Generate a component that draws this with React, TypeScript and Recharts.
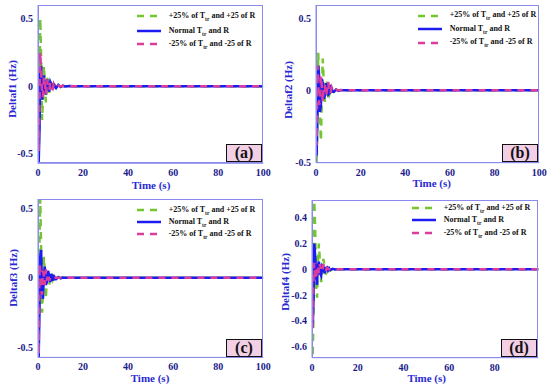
import React from "react";
import { LineChart, Line, XAxis, YAxis } from "recharts";

const T = [0, 0.3, 0.7, 1.0, 1.4, 1.8, 2.2, 2.6, 3.0, 3.5, 4.0, 4.5, 5.0, 5.5, 6, 6.5, 7, 7.5, 8, 9, 10, 11, 12, 14, 16, 20, 100];

const A_PLUS = [0, -0.55, 0.1, 0.5, 0.2, -0.25, -0.1, 0.15, 0.05, -0.12, 0.06, 0.04, -0.05, 0.03, 0.02, -0.02, 0.015, 0.005, -0.01, 0.005, -0.003, 0.002, 0, 0, 0, 0, 0];
const A_NORM = [0, -0.57, -0.3, 0.1, 0.15, -0.1, -0.05, 0.08, -0.04, -0.06, 0.05, 0.02, -0.04, 0.03, 0.01, -0.025, 0.02, -0.005, -0.015, 0.01, -0.006, 0.004, -0.002, 0.001, 0, 0, 0];
const A_MINUS = [0, -0.48, -0.1, 0.25, 0.1, -0.05, -0.08, 0.07, 0.03, -0.06, 0.05, -0.01, -0.03, 0.03, -0.01, -0.02, 0.015, -0.005, -0.008, 0.005, -0.002, 0.001, 0, 0, 0, 0, 0];

const B_PLUS = [0, -0.5, -0.1, 0.26, 0.1, -0.2, -0.35, -0.05, 0.22, 0.05, -0.08, -0.02, 0.06, 0.02, -0.03, -0.01, 0.02, 0, -0.01, 0.005, 0, 0, 0, 0, 0, 0, 0];
const B_NORM = [0, -0.45, -0.1, 0.17, 0.1, -0.15, -0.1, 0.08, 0.05, -0.06, -0.03, 0.05, 0.02, -0.03, -0.02, 0.025, 0.015, -0.01, -0.01, 0.006, -0.003, 0.002, 0, 0, 0, 0, 0];
const B_MINUS = [0, -0.38, 0.17, 0.05, -0.1, -0.08, 0.1, 0.03, -0.08, 0.04, 0.03, -0.04, 0.01, 0.06, -0.02, -0.02, 0.02, 0, -0.01, 0.004, 0, 0, 0, 0, 0, 0, 0];

const C_PLUS = [0, -0.2, 0.3, 0.57, 0.2, -0.25, -0.1, 0.15, 0.05, -0.15, 0.05, 0.03, -0.05, 0.02, 0.01, -0.015, 0.01, 0, -0.005, 0, 0, 0, 0, 0, 0, 0, 0];
const C_NORM = [0, -0.57, -0.2, 0.15, 0.2, -0.1, -0.15, 0.02, 0.08, -0.05, -0.03, 0.05, 0.01, -0.03, 0.03, -0.02, 0.02, -0.01, -0.01, 0.006, -0.004, 0.002, 0, 0, 0, 0, 0];
const C_MINUS = [0, -0.55, 0.1, 0.05, -0.1, -0.12, 0.05, 0.02, -0.05, 0.06, -0.02, 0.03, -0.02, 0.01, 0, 0, 0, 0, 0, 0, 0, 0, 0, 0, 0, 0, 0];

const D_PLUS = [0, -0.68, -0.3, 0.53, 0.3, -0.15, -0.22, 0.05, 0.2, 0.05, -0.1, -0.02, 0.08, 0.02, -0.04, 0, 0.02, 0, -0.01, 0.005, 0, 0, 0, 0, 0, 0, 0];
const D_NORM = [0, -0.45, -0.2, 0.2, 0.1, -0.05, -0.12, 0.03, 0.06, -0.03, -0.05, 0.03, 0.02, -0.03, 0.01, 0.015, -0.01, 0.008, -0.006, 0.004, -0.002, 0, 0, 0, 0, 0, 0];
const D_MINUS = [0, -0.45, -0.05, 0.05, -0.05, -0.08, 0.02, 0.03, -0.03, 0.04, -0.01, -0.02, 0.04, -0.005, -0.015, 0.01, 0.005, 0, 0, 0, 0, 0, 0, 0, 0, 0, 0];

const X_TICKS = [0, 20, 40, 60, 80, 100];
const X_TICKS_D = [0, 20, 40, 60, 80];
const Y_TICKS = [-0.5, 0, 0.5];
const Y_TICKS_D = [-0.6, -0.4, -0.2, 0, 0.2, 0.4];

const Y_TITLES = ["Deltaf1 (Hz)", "Deltaf2 (Hz)", "Deltaf3 (Hz)", "Deltaf4 (Hz)"];
const X_TITLE = "Time (s)";
const LETTERS = ["(a)", "(b)", "(c)", "(d)"];

const GREEN = "#74c62f";
const BLUE = "#1c1cf0";
const PINK = "#dc3c9c";
const AXIS = "#8a8aec";
const TICK_TEXT = "#1a1a8a";
const TITLE = "#2a2ad4";
const FONT = "'Liberation Serif', 'Times New Roman', serif";

const build = (p: number[], n: number[], m: number[]) =>
  T.map((t, i) => ({ t, plus: p[i], norm: n[i], minus: m[i] }));

type PanelProps = {
  l: number; t: number; r: number; b: number;
  data: any[];
  yDomain: [number, number];
  yTicks: number[];
  xDomain: [number, number];
  xTicks: number[];
  yTitle: string;
  yTitleX: number; yTitleY: number;
  xTitleX: number; xTitleY: number;
  letter: string;
  legX: number; legRows: number[];
};

const LegendRow = ({ kind, y, x }: { kind: number; y: number; x: number }) => {
  const color = kind === 0 ? GREEN : kind === 1 ? BLUE : PINK;
  return (
    <div style={{ position: "absolute", left: x, top: y - 6, height: 12, display: "flex", alignItems: "center", whiteSpace: "nowrap" }}>
      <svg width={24} height={6} style={{ display: "block" }}>
        <line x1={0} y1={3} x2={24} y2={3} stroke={color} strokeWidth={2.5} strokeDasharray={kind === 1 ? undefined : "7 6"} />
      </svg>
      <span style={{ marginLeft: 8, fontFamily: FONT, fontWeight: 700, fontSize: 8, color: "#111" }}>
        {kind === 0 ? (
          <>+25% of T<sub style={{ fontSize: 5.5 }}>tr</sub> and +25 of R</>
        ) : kind === 1 ? (
          <>Normal T<sub style={{ fontSize: 5.5 }}>tr</sub> and R</>
        ) : (
          <>-25% of T<sub style={{ fontSize: 5.5 }}>tr</sub> and -25 of R</>
        )}
      </span>
    </div>
  );
};

const Panel = (p: PanelProps) => {
  const padL = 40, padT = 10, padR = 10, padB = 30;
  const w = p.r - p.l + padL + padR;
  const h = p.b - p.t + padT + padB;
  return (
    <>
      <div style={{ position: "absolute", left: p.l - padL, top: p.t - padT }}>
        <LineChart width={w} height={h} data={p.data} margin={{ top: padT, right: padR, left: 0, bottom: 0 }}>
          <XAxis
            dataKey="t"
            type="number"
            domain={p.xDomain}
            ticks={p.xTicks}
            allowDataOverflow
            height={padB}
            stroke={AXIS}
            tickLine={false}
            tickSize={3}
            tickMargin={3}
            tick={{ fill: TICK_TEXT, fontSize: 10, fontWeight: 700, fontFamily: FONT }}
          />
          <YAxis
            type="number"
            domain={p.yDomain}
            ticks={p.yTicks}
            allowDataOverflow
            width={padL}
            stroke={AXIS}
            tickLine={false}
            tickSize={3}
            tickMargin={2}
            tickFormatter={(v: number) => String(v)}
            tick={{ fill: TICK_TEXT, fontSize: 10, fontWeight: 700, fontFamily: FONT }}
          />
          <Line dataKey="plus" stroke={GREEN} strokeWidth={2.5} strokeDasharray="7 6" dot={false} isAnimationActive={false} />
          <Line dataKey="norm" stroke={BLUE} strokeWidth={2.5} dot={false} isAnimationActive={false} />
          <Line dataKey="minus" stroke={PINK} strokeWidth={2.5} strokeDasharray="7 6" dot={false} isAnimationActive={false} />
        </LineChart>
      </div>
      <div style={{ position: "absolute", left: p.l, top: p.t, width: p.r - p.l, height: p.b - p.t, border: `1px solid ${AXIS}`, boxSizing: "border-box", pointerEvents: "none" }} />
      <div style={{ position: "absolute", left: p.l + p.legX, top: p.t }}>
        {p.legRows.map((y, i) => (
          <LegendRow key={i} kind={i} y={y} x={0} />
        ))}
      </div>
      <div style={{ position: "absolute", left: p.r - 37, top: p.b - 19, width: 36, height: 18, background: "#f3cfe6", border: "1.5px solid #111", boxSizing: "border-box", display: "flex", alignItems: "center", justifyContent: "center", fontFamily: FONT, fontWeight: 700, fontSize: 16, color: "#111", lineHeight: "16px" }}>
        {p.letter}
      </div>
      <div style={{ position: "absolute", left: p.yTitleX, top: p.yTitleY, transform: "translate(-50%, -50%) rotate(-90deg)", whiteSpace: "nowrap", fontFamily: FONT, fontWeight: 700, fontSize: 11, color: TITLE }}>
        {p.yTitle}
      </div>
      <div style={{ position: "absolute", left: p.xTitleX, top: p.xTitleY, transform: "translate(-50%, -50%)", whiteSpace: "nowrap", fontFamily: FONT, fontWeight: 700, fontSize: 11, color: TITLE }}>
        {X_TITLE}
      </div>
    </>
  );
};

export default function App() {
  return (
    <div style={{ position: "absolute", left: 0, top: 0, width: 550, height: 389, background: "#fff", overflow: "hidden" }}>
      <Panel l={37.7} t={5} r={263} b={163.3} data={build(A_PLUS, A_NORM, A_MINUS)} yDomain={[-0.57, 0.6]} yTicks={Y_TICKS} xDomain={[0, 100]} xTicks={X_TICKS}
        yTitle={Y_TITLES[0]} yTitleX={11.5} yTitleY={89} xTitleX={151} xTitleY={185} letter={LETTERS[0]} legX={99} legRows={[11, 26, 39]} />
      <Panel l={315.7} t={5} r={539} b={162.7} data={build(B_PLUS, B_NORM, B_MINUS)} yDomain={[-0.5, 0.59]} yTicks={Y_TICKS} xDomain={[0, 100]} xTicks={X_TICKS}
        yTitle={Y_TITLES[1]} yTitleX={288} yTitleY={90} xTitleX={431.7} xTitleY={183} letter={LETTERS[1]} legX={102} legRows={[10.7, 24.3, 37.7]} />
      <Panel l={37.7} t={199.3} r={263} b={357.7} data={build(C_PLUS, C_NORM, C_MINUS)} yDomain={[-0.57, 0.565]} yTicks={Y_TICKS} xDomain={[0, 100]} xTicks={X_TICKS}
        yTitle={Y_TITLES[2]} yTitleX={13} yTitleY={278} xTitleX={150} xTitleY={378} letter={LETTERS[2]} legX={99} legRows={[10.7, 22.7, 34.7]} />
      <Panel l={311.7} t={200} r={538} b={357.7} data={build(D_PLUS, D_NORM, D_MINUS)} yDomain={[-0.685, 0.537]} yTicks={Y_TICKS_D} xDomain={[0, 99]} xTicks={X_TICKS_D}
        yTitle={Y_TITLES[3]} yTitleX={285} yTitleY={282} xTitleX={426.7} xTitleY={377.7} letter={LETTERS[3]} legX={100} legRows={[8, 20, 33]} />
    </div>
  );
}
